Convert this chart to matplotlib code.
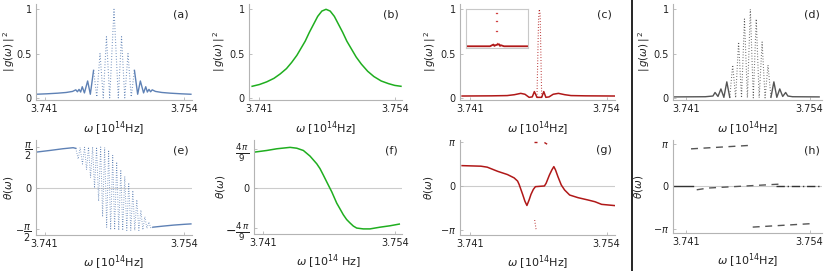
import numpy as np
import matplotlib.pyplot as plt
from matplotlib.lines import Line2D

# ---- panel (a): |g|^2, blue ----
a_wing_l_w = [3.7402, 3.7412, 3.7422, 3.7430, 3.7436, 3.7439, 3.74405, 3.7442, 3.74435, 3.7445, 3.7447, 3.7450, 3.74525, 3.74555]
a_wing_l_g = [0.040, 0.045, 0.052, 0.060, 0.072, 0.090, 0.068, 0.095, 0.065, 0.125, 0.055, 0.190, 0.040, 0.310]
a_mid_w = [3.74555, 3.74585, 3.74615, 3.74645, 3.74675, 3.74705, 3.74745, 3.74785, 3.74815, 3.74845, 3.74875, 3.74905, 3.74935]
a_mid_g = [0.31, 0.01, 0.50, 0.00, 0.69, 0.00, 1.00, 0.00, 0.69, 0.00, 0.50, 0.01, 0.31]
a_wing_r_w = [3.74935, 3.74965, 3.7499, 3.7502, 3.7504, 3.75055, 3.7507, 3.75085, 3.7510, 3.7513, 3.7519, 3.7527, 3.7537, 3.7546]
a_wing_r_g = [0.310, 0.040, 0.190, 0.055, 0.125, 0.065, 0.095, 0.068, 0.090, 0.072, 0.060, 0.052, 0.045, 0.040]

# ---- panel (e): theta, blue ----
e_left_w = [3.7402, 3.7415, 3.7427, 3.74365, 3.7439]
e_left_t = [1.375, 1.44, 1.505, 1.545, 1.52]
e_mid_w = [3.7439, 3.74412, 3.7443, 3.74452, 3.74471, 3.7449, 3.74508, 3.74527, 3.74546, 3.74564,
           3.74583, 3.74602, 3.74621, 3.74639, 3.74658, 3.74677, 3.74695, 3.74714, 3.74733, 3.74751,
           3.7477, 3.74789, 3.74808, 3.74826, 3.74845, 3.74864, 3.74882, 3.74901, 3.7492, 3.74938,
           3.74957, 3.74976, 3.74995, 3.75013, 3.75032, 3.75051, 3.75069, 3.75088, 3.75107]
e_mid_t = [1.52, 1.11, 1.55, 0.92, 1.56, 0.70, 1.57, 0.40, 1.57, 0.00,
           1.57, -0.50, 1.57, -1.10, 1.55, -1.50, 1.45, -1.60, 1.25, -1.60,
           1.00, -1.62, 0.70, -1.62, 0.45, -1.62, 0.20, -1.62, -0.10, -1.62,
           -0.45, -1.62, -0.85, -1.60, -1.10, -1.55, -1.30, -1.55, -1.50]
e_right_w = [3.75107, 3.7520, 3.7530, 3.7540, 3.7546]
e_right_t = [-1.50, -1.46, -1.42, -1.39, -1.375]

# ---- panel (b): |g|^2, green ----
b_w = [3.7403, 3.7410, 3.7417, 3.7424, 3.7430, 3.7436, 3.7441, 3.7446, 3.7450, 3.7454,
       3.7458, 3.7462, 3.7466, 3.7470, 3.7474, 3.7478, 3.7482, 3.7486, 3.7490, 3.7494,
       3.7498, 3.7503, 3.7508, 3.7514, 3.7520, 3.7527, 3.7534, 3.7540, 3.7546]
b_g = [0.13, 0.15, 0.18, 0.22, 0.27, 0.33, 0.40, 0.48, 0.56, 0.64,
       0.74, 0.83, 0.92, 0.98, 1.00, 0.98, 0.92, 0.83, 0.74, 0.64,
       0.56, 0.46, 0.38, 0.30, 0.24, 0.19, 0.16, 0.14, 0.13]

# ---- panel (f): theta, green ----
f_w = [3.7401, 3.74136, 3.74235, 3.74366, 3.74432, 3.74497, 3.74563, 3.74629, 3.74661, 3.74694,
       3.74743, 3.74777, 3.74826, 3.74858, 3.74891, 3.74924, 3.74957, 3.7499, 3.75023, 3.75088,
       3.75154, 3.75252, 3.75351, 3.75443]
f_t = [1.28, 1.34, 1.40, 1.45, 1.42, 1.34, 1.14, 0.87, 0.70, 0.47,
       0.12, -0.12, -0.52, -0.72, -0.93, -1.10, -1.22, -1.33, -1.40, -1.43,
       -1.43, -1.37, -1.32, -1.26]

# ---- panel (c): |g|^2, red ----
c_base_w = [3.7402, 3.7430, 3.7445, 3.7452, 3.7458, 3.7462, 3.7466, 3.7469, 3.7471, 3.74735,
            3.7478, 3.7480, 3.7482, 3.7485, 3.7489, 3.7494, 3.7500, 3.7506, 3.7520, 3.7548]
c_base_g = [0.020, 0.022, 0.025, 0.035, 0.050, 0.040, 0.005, 0.010, 0.070, 0.005,
            0.005, 0.070, 0.005, 0.010, 0.040, 0.050, 0.035, 0.025, 0.022, 0.020]
c_spike_w = [3.74735, 3.74750, 3.74757, 3.74765, 3.7478]
c_spike_g = [0.005, 0.88, 1.00, 0.95, 0.005]

# inset of (c)
ins_w = [3.7460, 3.7472, 3.74737, 3.74742, 3.74747, 3.74765, 3.7477, 3.74775, 3.7479, 3.7491]
ins_g = [0.02, 0.02, 0.07, 0.03, 0.05, 0.08, 0.03, 0.05, 0.02, 0.02]
ins_spike_w = [3.74750, 3.74757, 3.74750, 3.74757, 3.74750, 3.74757, 3.74753]
ins_spike_g = [0.98, 0.98, 0.76, 0.76, 0.45, 0.45, 0.11]

# ---- panel (g): theta, red ----
g_w = [3.7402, 3.7420, 3.7426, 3.7436, 3.74453, 3.74517, 3.7455, 3.74565, 3.74598, 3.7462,
       3.74639, 3.7466, 3.74678, 3.747, 3.7472, 3.74806, 3.74822, 3.74854, 3.74877, 3.74896,
       3.74912, 3.74935, 3.74967, 3.74999, 3.75047, 3.75127, 3.75224, 3.75288, 3.75352, 3.7548]
g_t = [1.46, 1.42, 1.35, 1.05, 0.82, 0.58, 0.35, 0.10, -0.60, -1.10,
       -1.40, -1.00, -0.60, -0.25, -0.05, 0.00, 0.19, 0.79, 1.15, 1.39,
       1.15, 0.67, 0.07, -0.29, -0.65, -0.84, -1.01, -1.13, -1.32, -1.41]
g_top1_w = [3.74707, 3.74733]
g_top1_t = [3.14, 3.14]
g_top2_w = [3.74806, 3.74832]
g_top2_t = [3.12, 3.00]
g_bot_w = [3.74713, 3.74726]
g_bot_t = [-2.45, -3.10]

# ---- panel (d): |g|^2, gray ----
d_wing_l_w = [3.7397, 3.7430, 3.74381, 3.74403, 3.74434, 3.74465, 3.74496, 3.74527, 3.74558]
d_wing_l_g = [0.010, 0.012, 0.020, 0.060, 0.015, 0.100, 0.005, 0.180, 0.005]
d_mid_w = [3.74558, 3.74589, 3.7462, 3.74651, 3.74682, 3.74713, 3.74744, 3.74775, 3.74806,
           3.74837, 3.74868, 3.74899, 3.7493, 3.74961, 3.74992]
d_mid_g = [0.005, 0.37, 0.00, 0.63, 0.00, 0.89, 0.00, 1.00, 0.00,
           0.89, 0.00, 0.63, 0.00, 0.37, 0.005]
d_wing_r_w = [3.74992, 3.75023, 3.75054, 3.75085, 3.75116, 3.75147, 3.7517, 3.7522, 3.7550]
d_wing_r_g = [0.005, 0.180, 0.005, 0.100, 0.015, 0.060, 0.020, 0.012, 0.010]

# ---- panel (h): theta, gray ----
h_top_w = [3.7415, 3.7475]
h_top_t = [2.80, 3.05]
h_zero_l_w = [3.7397, 3.7417]
h_zero_l_t = [0.0, 0.0]
h_mid_w = [3.7421, 3.7433, 3.7508, 3.7512]
h_mid_t = [-0.25, -0.12, 0.17, 0.32]
h_zero_r_w = [3.7505, 3.7550]
h_zero_r_t = [0.0, 0.0]
h_bot_w = [3.7480, 3.7540]
h_bot_t = [-3.03, -2.78]

BLUE = '#5e81b5'
GREEN = '#1fae1f'
RED = '#b01818'
GRAY = '#555555'
AXC = '#b4b4b4'
TXT = '#222222'

fig = plt.figure(figsize=(8.3, 2.71), dpi=100)


def make_axes(l, t, r, b):
    return fig.add_axes([l / 830, 1 - b / 271, (r - l) / 830, (b - t) / 271])


def style(ax, xlim, ylim, yticks, yticklabels, ylabel, xlabel, tag, ylab_x, zero=False):
    ax.set_xlim(*xlim)
    ax.set_ylim(*ylim)
    for s in ['top', 'right']:
        ax.spines[s].set_visible(False)
    for s in ['left', 'bottom']:
        ax.spines[s].set_color(AXC)
        ax.spines[s].set_linewidth(0.8)
    ax.set_xticks([3.741, 3.754])
    ax.set_xticklabels(['3.741', '3.754'])
    ax.set_yticks(yticks)
    ax.set_yticklabels(yticklabels)
    ax.tick_params(direction='in', length=2.5, width=0.6, color=AXC,
                   labelsize=7, labelcolor=TXT, pad=3)
    ax.set_ylabel(ylabel, fontsize=7.5, color=TXT)
    ax.yaxis.set_label_coords(ylab_x, 0.5)
    ax.set_xlabel(xlabel, fontsize=8, color=TXT)
    ax.xaxis.set_label_coords(0.5, -0.2)
    ax.text(0.93, 0.89, tag, transform=ax.transAxes, fontsize=8, color=TXT,
            ha='center', va='center')
    if zero:
        ax.axhline(0, color='#cccccc', lw=0.8, zorder=0)
    ax.patch.set_alpha(0)


dots = (0, (0.7, 1.8))
G_LAB = r'$|\,g(\omega)\,|^{\,2}$'
T_LAB = r'$\theta(\omega)$'
X_LAB = r'$\omega$ [10$^{14}$Hz]'
Y01 = [0, 0.5, 1]
Y01L = ['0', '0.5', '1']
TOP_YL = (-0.025, 1.06)

# (a)
ax = make_axes(36, 4, 192, 100)
ax.plot(a_wing_l_w, a_wing_l_g, color=BLUE, lw=1.0)
ax.plot(a_mid_w, a_mid_g, color=BLUE, lw=0.8, ls=dots)
ax.plot(a_wing_r_w, a_wing_r_g, color=BLUE, lw=1.0)
style(ax, (3.7402, 3.7547), TOP_YL, Y01, Y01L, G_LAB, X_LAB, '(a)', -0.12)

# (b)
ax = make_axes(249, 4, 402, 100)
ax.plot(b_w, b_g, color=GREEN, lw=1.1)
style(ax, (3.7400, 3.7547), TOP_YL, Y01, Y01L, G_LAB, X_LAB, '(b)', -0.145)

# (c)
ax = make_axes(460, 4, 615, 100)
ax.plot(c_base_w, c_base_g, color=RED, lw=1.1)
ax.plot(c_spike_w, c_spike_g, color=RED, lw=0.8, ls=dots)
style(ax, (3.7400, 3.7548), TOP_YL, Y01, Y01L, G_LAB, X_LAB, '(c)', -0.145)
ins = make_axes(466, 9, 528, 48)
ins.plot(ins_w, ins_g, color=RED, lw=1.3)
ins.plot(ins_spike_w, ins_spike_g, ls='none', marker='s', ms=0.9, mew=0, color='#d04040')
ins.set_xlim(3.7460, 3.7491)
ins.set_ylim(-0.03, 1.1)
ins.set_xticks([])
ins.set_yticks([])
for s in ins.spines.values():
    s.set_color('#c8c8c8')
    s.set_linewidth(0.8)

# (d)
ax = make_axes(673, 4, 822, 100)
ax.plot(d_wing_l_w, d_wing_l_g, color=GRAY, lw=1.0)
ax.plot(d_mid_w, d_mid_g, color=GRAY, lw=0.8, ls=dots)
ax.plot(d_wing_r_w, d_wing_r_g, color=GRAY, lw=1.0)
style(ax, (3.7396, 3.7553), TOP_YL, Y01, Y01L, G_LAB, X_LAB, '(d)', -0.14)

# (e)
ax = make_axes(36, 140, 192, 235)
ax.plot(e_left_w, e_left_t, color=BLUE, lw=1.0)
ax.plot(e_mid_w, e_mid_t, color=BLUE, lw=0.7, ls=dots)
ax.plot(e_right_w, e_right_t, color=BLUE, lw=1.0)
style(ax, (3.7402, 3.7547), (-1.80, 1.84), [-np.pi / 2, 0, np.pi / 2],
      [r'$-\dfrac{\pi}{2}$', '0', r'$\dfrac{\pi}{2}$'], T_LAB, X_LAB, '(e)', -0.135, zero=True)

# (f)
ax = make_axes(254, 140, 402, 234)
ax.plot(f_w, f_t, color=GREEN, lw=1.1)
style(ax, (3.7401, 3.7547), (-1.61, 1.71), [-4 * np.pi / 9, 0, 4 * np.pi / 9],
      [r'$-\frac{4\,\pi}{9}$', '0', r'$\frac{4\,\pi}{9}$'], T_LAB,
      r'$\omega$ [10$^{14}$ Hz]', '(f)', -0.18, zero=True)
for lab in ax.get_yticklabels():
    if lab.get_text() != '0':
        lab.set_fontsize(9)

# (g)
ax = make_axes(460, 140, 615, 235)
ax.plot(g_w, g_t, color=RED, lw=1.1)
ax.plot(g_top1_w, g_top1_t, color=RED, lw=1.0, ls=(0, (3, 2)))
ax.plot(g_top2_w, g_top2_t, color=RED, lw=1.0, ls=(0, (3, 2)))
ax.plot(g_bot_w, g_bot_t, color=RED, lw=0.8, ls=dots)
style(ax, (3.7400, 3.7548), (-3.52, 3.30), [-np.pi, 0, np.pi],
      [r'$-\pi$', '0', r'$\pi$'], T_LAB, X_LAB, '(g)', -0.16, zero=True)

# (h)
ax = make_axes(673, 140, 822, 233)
dash = (0, (5, 4))
ax.plot(h_top_w, h_top_t, color=GRAY, lw=1.0, ls=dash)
ax.plot(h_zero_l_w, h_zero_l_t, color='#333333', lw=1.0)
ax.plot(h_mid_w, h_mid_t, color=GRAY, lw=1.0, ls=dash)
ax.plot(h_zero_r_w, h_zero_r_t, color='#333333', lw=1.0, ls=(0, (6, 2, 1, 2)))
ax.plot(h_bot_w, h_bot_t, color=GRAY, lw=1.0, ls=dash)
style(ax, (3.7396, 3.7553), (-3.47, 3.46), [-np.pi, 0, np.pi],
      [r'$-\pi$', '0', r'$\pi$'], T_LAB, X_LAB, '(h)', -0.19, zero=True)

# separator line
fig.add_artist(Line2D([632 / 830, 632 / 830], [0, 1], color='black', lw=1.2,
                      transform=fig.transFigure))

fig.savefig('out.png', dpi=100)
